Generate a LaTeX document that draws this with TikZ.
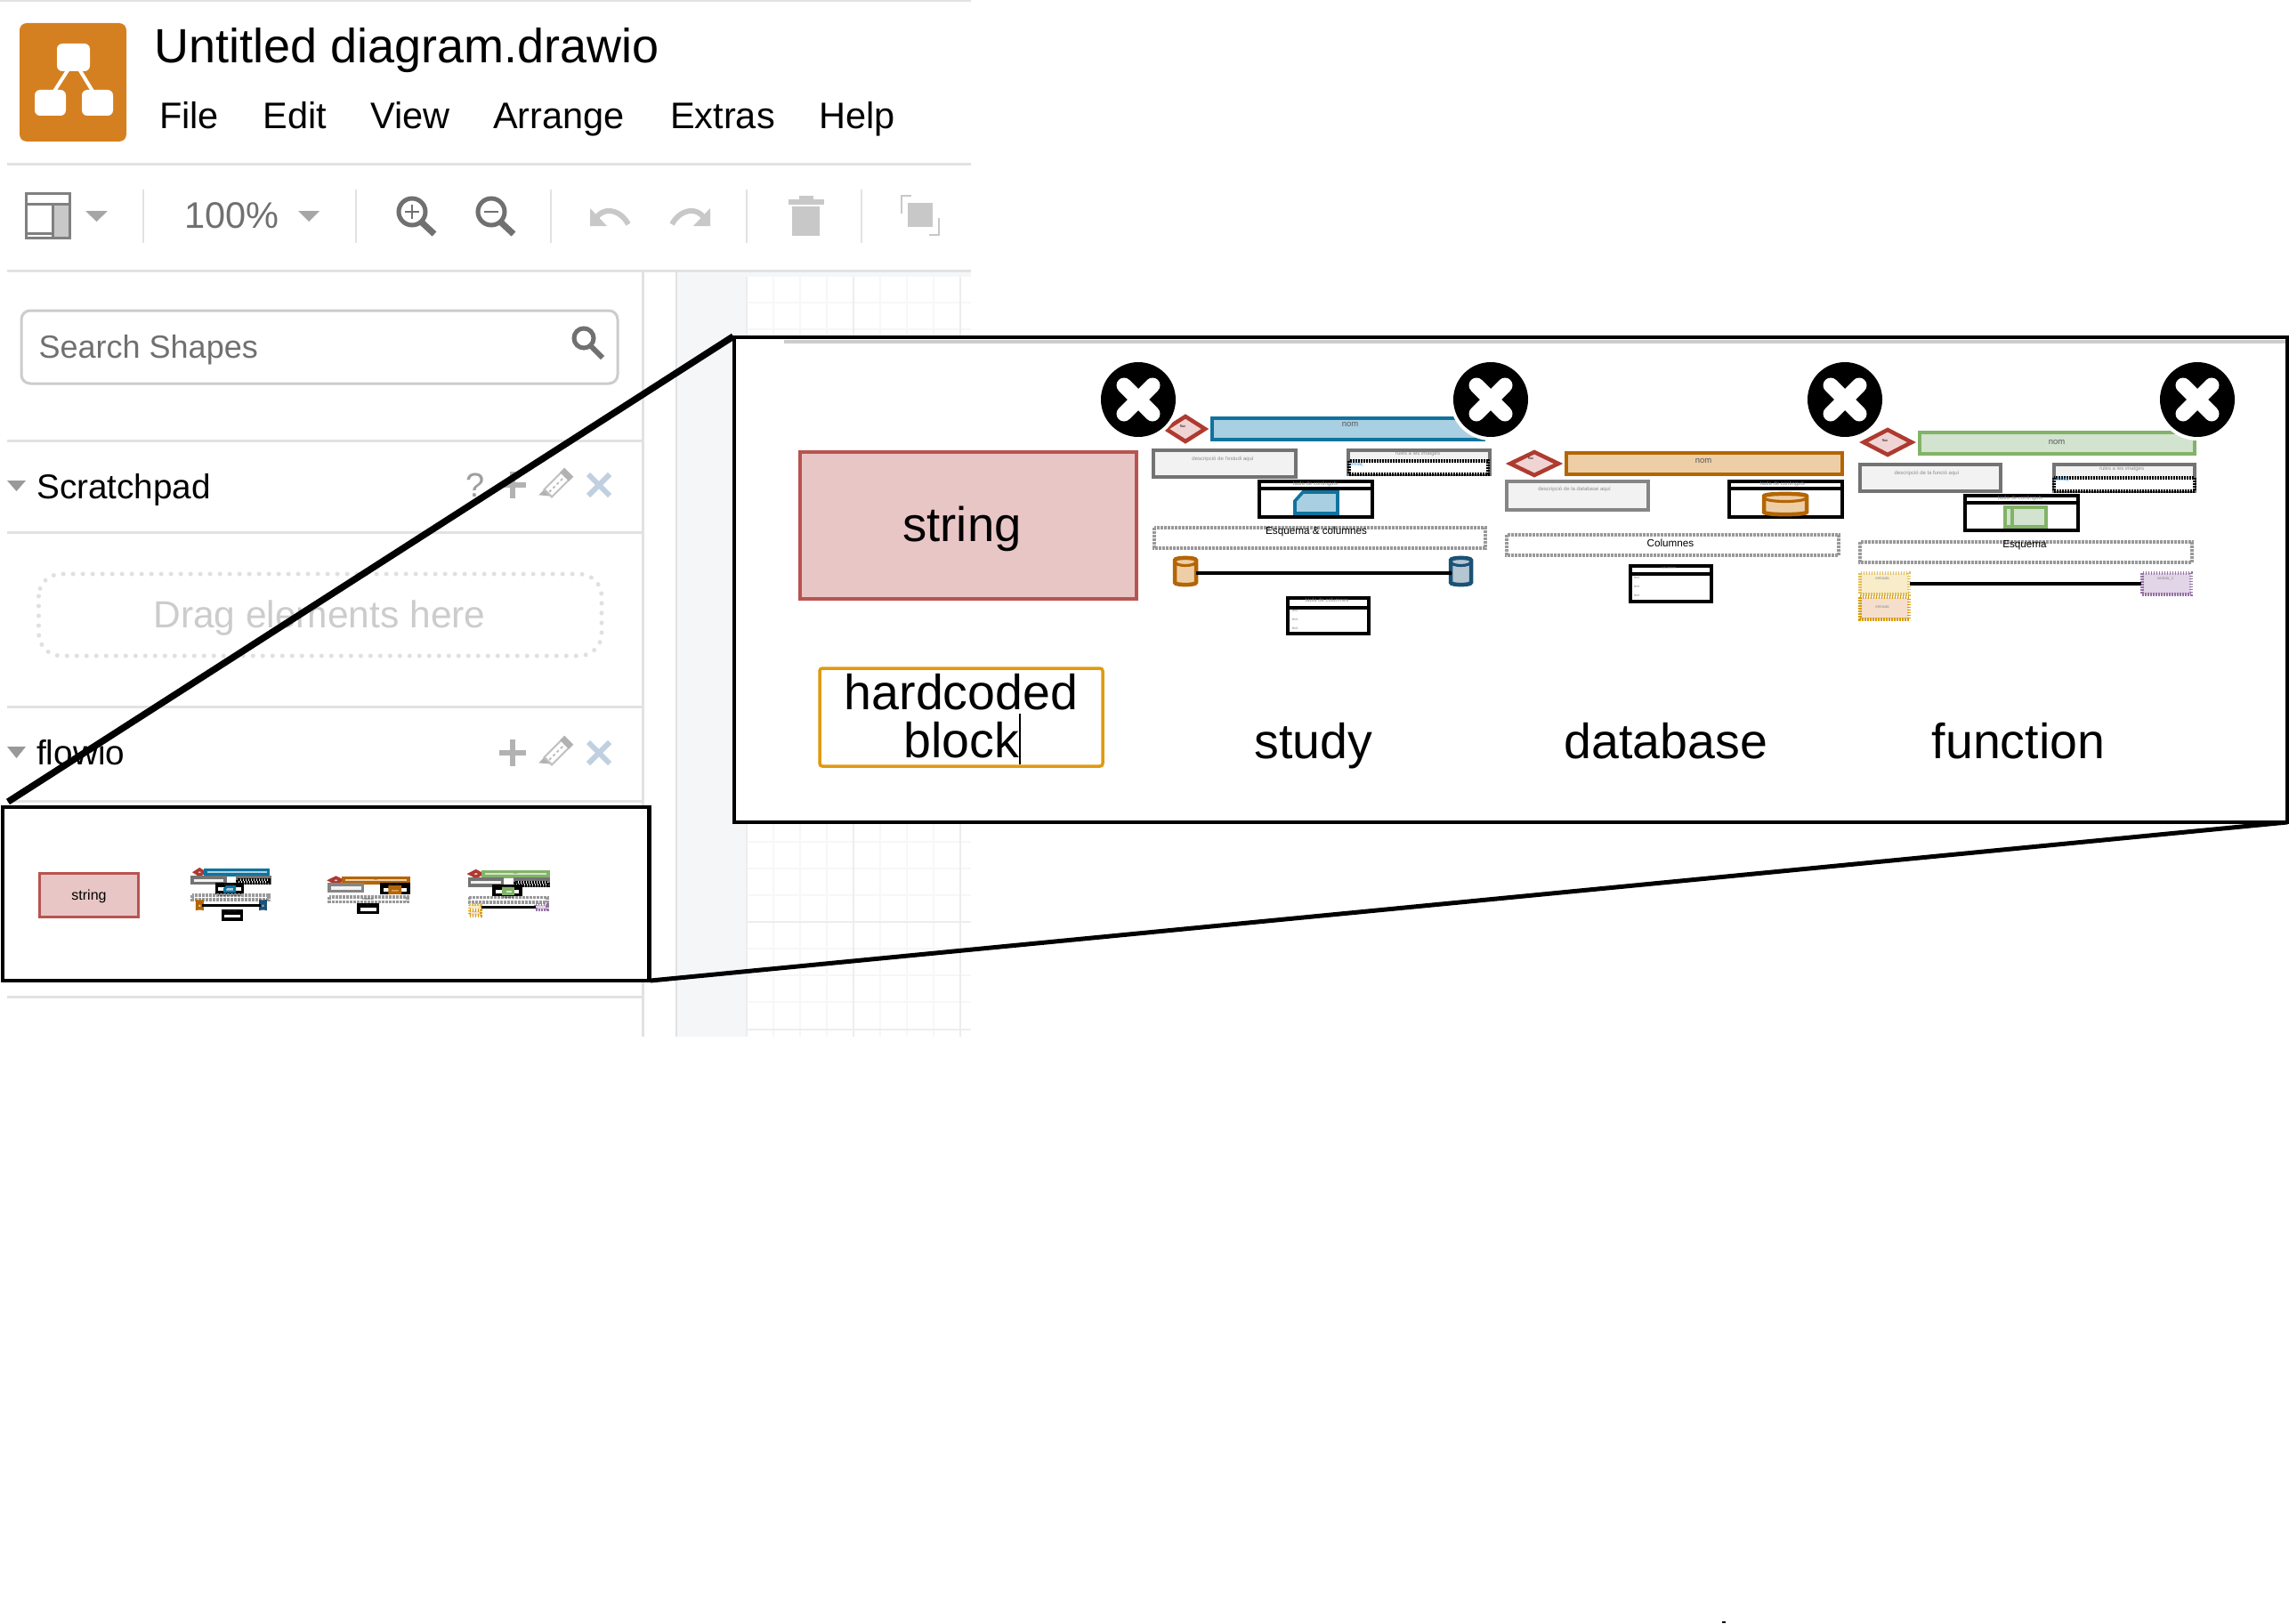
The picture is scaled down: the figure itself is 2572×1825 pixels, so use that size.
\documentclass[tikz,border=0pt]{standalone}
\usepackage{fontspec}
\setmainfont{Liberation Sans}
\usetikzlibrary{shapes.geometric}
\definecolor{uiline}{HTML}{E2E2E2}
\definecolor{uitext}{HTML}{707070}
\definecolor{dim}{HTML}{C8C8C8}
\definecolor{band}{HTML}{F5F6F8}
\definecolor{logoc}{HTML}{D58020}
\definecolor{redf}{HTML}{E9C6C6}
\definecolor{reds}{HTML}{B85450}
\definecolor{dia}{HTML}{AE3A30}
\definecolor{diaf}{HTML}{F0D4D4}
\definecolor{bluef}{HTML}{A9CFE2}
\definecolor{blues}{HTML}{10739E}
\definecolor{orgf}{HTML}{EECEA7}
\definecolor{orgs}{HTML}{B46504}
\definecolor{grnf}{HTML}{D2E3CF}
\definecolor{grns}{HTML}{82B366}
\definecolor{navyf}{HTML}{B5C5D2}
\definecolor{navys}{HTML}{1A5276}
\definecolor{ylwf}{HTML}{F8ECC9}
\definecolor{ylws}{HTML}{E0BE58}
\definecolor{peachf}{HTML}{F5DFCC}
\definecolor{peachs}{HTML}{D79B00}
\definecolor{purf}{HTML}{E1D5E7}
\definecolor{purs}{HTML}{9673A6}
\definecolor{hardc}{HTML}{E09A10}
\definecolor{linkc}{HTML}{3B9AE1}
\definecolor{crossc}{HTML}{C0D0E0}
\newcommand{\fs}[1]{\fontsize{#1}{#1}\selectfont}
\tikzset{
 x=1pt,y=-1pt,
 uirule/.style={uiline,line width=3pt},
 sep/.style={uiline,line width=2.5pt},
 mtext/.style={inner sep=0pt,anchor=base west,font=\fs{41.5},text=black},
 ticon/.style={uitext,line width=5pt},
 tdim/.style={dim,line width=4pt},
 tri/.style={fill=#1,draw=none},
 plusi/.style={color=black!30,line width=6.5pt},
 crossi/.style={color=crossc,line width=6pt},
 pen/.style={color=black!25,line width=2pt,fill=white},
 tiny/.style={inner sep=0pt,font=\fs{6},text=black!45},
 nomtext/.style={inner sep=0pt,font=\fs{9.5},text=black!65},
 esq/.style={inner sep=0pt,font=\fs{11.7},text=black},
 desc/.style={fill=black!5,draw=black!55,line width=\tlw},
 sub/.style={fill=white,draw=black,line width=\tlw},
 dots/.style={draw=black!40,line width=\tlw,dash pattern=on 3pt off 1pt,fill=white},
 dashk/.style={draw=black,line width=\tlw,dash pattern=on 2pt off 1pt,fill=white},
 dashc/.style={line width=\tlw,dash pattern=on 1.5pt off 1.5pt},
 wire/.style={black,line width=\tlw},
 big/.style={font=\fs{55.5},inner sep=0pt,text=black},
}
\newcommand{\tlw}{4.5pt}
\newcommand{\cyl}[6]{% x0 y0 x1 y1 fill stroke
 \draw[fill=#5,draw=#6,line width=\tlw,rounded corners=1.5pt]
   (#1,#2+4) .. controls (#1,#2-1) and (#3,#2-1) .. (#3,#2+4) -- (#3,#4-4)
   .. controls (#3,#4+1) and (#1,#4+1) .. (#1,#4-4) -- cycle;
 \draw[draw=#6,line width=.7*\tlw] (#1,#2+4) .. controls (#1,#2+10) and (#3,#2+10) .. (#3,#2+4);
}
\newcommand{\dia}[4]{%
 \draw[fill=diaf,draw=dia,line width=\tlw] (#1-#3,#2) -- (#1,#2-#4) -- (#1+#3,#2) -- (#1,#2+#4) -- cycle;
}
\newcommand{\studytile}[1]{
 \dia{1332}{482}{22}{14}
 \node[inner sep=0pt,font=\fs{4},text=black] (dia#1) at (1329,479) {flux};
 \draw[fill=bluef,draw=blues,line width=\tlw] (1362,470) rectangle (1667,494);
 \node[nomtext] (nom#1) at (1517,477) {nom};
 \draw[desc] (1296,506) rectangle (1456,536);
 \node[tiny] (dsc#1) at (1374,516) {descripció de l'estudi aquí};
 \draw[desc] (1515,506) rectangle (1674,533);
 \node[tiny] (rul#1) at (1593,510) {rules a les imatges};
 \draw[dashk] (1516,518) rectangle (1672,533);
 \node[inner sep=0pt,font=\fs{5.5},text=linkc,anchor=west] (lnk#1) at (1517,522) {enllaç};
 \draw[sub] (1415,541) rectangle (1542,581);
 \draw[black,line width=\tlw] (1415,549) -- (1542,549);
 \node[tiny] (hdr#1) at (1478,543.5) {taula de continguts};
 \draw[fill=bluef,draw=blues,line width=.8*\tlw] (1464,553) -- (1503,553) -- (1503,577) -- (1455,577) -- (1455,563) -- cycle;
 \draw[dots] (1297,593) rectangle (1669,616);
 \node[esq] (esq#1) at (1479,597) {Esquema \& columnes};
 \cyl{1320}{627}{1344}{657}{orgf}{orgs}
 \cyl{1630}{627}{1653}{657}{navyf}{navys}
 \coordinate (ca#1) at (1344,644);
 \coordinate (cb#1) at (1629,644);
 \draw[wire] (ca#1) -- (cb#1);
 \fill[black] (cb#1) circle[radius=2.5];
 \draw[sub] (1447,672) rectangle (1538,712);
 \draw[black,line width=\tlw] (1447,683) -- (1538,683);
 \node[tiny] (thd#1) at (1491,674.5) {taula de columnes};
 \node[tiny,font=\fs{4}] (ra#1) at (1455,686.5) {text};
 \node[tiny,font=\fs{4}] (rb#1) at (1455,696.5) {text};
 \node[tiny,font=\fs{4}] (rc#1) at (1455,706.5) {text};
}
\newcommand{\dbtile}[1]{
 \dia{1724}{521}{27}{13}
 \node[inner sep=0pt,font=\fs{4},text=black] (dia#1) at (1720,515) {flux};
 \draw[fill=orgf,draw=orgs,line width=\tlw] (1760,509) rectangle (2070,533);
 \node[nomtext] (nom#1) at (1914,518) {nom};
 \draw[desc,draw=black!48] (1693,541) rectangle (1852,573);
 \node[tiny] (dsc#1) at (1769,550) {descripció de la database aquí};
 \draw[sub] (1943,541) rectangle (2070,581);
 \draw[black,line width=\tlw] (1943,549) -- (2070,549);
 \node[tiny] (hdr#1) at (2003,543.5) {taula de continguts};
 \cyl{1982}{555}{2030}{578}{orgf}{orgs}
 \draw[dots] (1693,601) rectangle (2066,624);
 \node[esq] (esq#1) at (1877,610) {Columnes};
 \draw[sub] (1832,636) rectangle (1923,676);
 \draw[black,line width=\tlw] (1832,645) -- (1923,645);
 \node[tiny,font=\fs{4}] (thd#1) at (1875,638) {columnes};
 \node[tiny,font=\fs{4}] (ra#1) at (1839,649) {text};
 \node[tiny,font=\fs{4}] (rb#1) at (1839,659) {text};
 \node[tiny,font=\fs{4}] (rc#1) at (1839,669) {text};
}
\newcommand{\fntile}[1]{
 \dia{2121}{497}{27}{14}
 \node[inner sep=0pt,font=\fs{4},text=black] (dia#1) at (2118,495) {flux};
 \draw[fill=grnf,draw=grns,line width=\tlw] (2157,486) rectangle (2466,510);
 \node[nomtext] (nom#1) at (2311,497) {nom};
 \draw[desc] (2090,522) rectangle (2248,552);
 \node[tiny] (dsc#1) at (2165,532) {descripció de la funció aquí};
 \draw[desc] (2308,522) rectangle (2466,552);
 \node[tiny] (rul#1) at (2384,527) {rules a les imatges};
 \draw[dashk] (2308,537) rectangle (2466,552);
 \node[inner sep=0pt,font=\fs{5.5},text=linkc,anchor=west] (lnk#1) at (2310,539) {enllaç};
 \draw[sub] (2208,557) rectangle (2335,596);
 \draw[black,line width=\tlw] (2208,565) -- (2335,565);
 \node[tiny] (hdr#1) at (2270,559.5) {taula de continguts};
 \draw[fill=grnf,draw=grns,line width=\tlw] (2253,570) rectangle (2299,592);
 \draw[grns,line width=.8*\tlw] (2261,570) -- (2261,592);
 \draw[dots] (2090,609) rectangle (2463,632);
 \node[esq] (esq#1) at (2275,613) {Esquema};
 \draw[fill=ylwf,draw=ylws,dashc] (2090,644) rectangle (2145,668);
 \node[tiny,font=\fs{4.5}] (ea#1) at (2115,650) {entrada};
 \draw[fill=peachf,draw=peachs,dashc] (2090,671) rectangle (2145,696);
 \node[tiny,font=\fs{4.5}] (eb#1) at (2115,682) {entrada};
 \draw[fill=purf,draw=purs,dashc] (2407,644) rectangle (2462,668);
 \node[tiny,font=\fs{4.5}] (so#1) at (2433,650) {sortida\_1};
 \coordinate (fa#1) at (2146,656);
 \coordinate (fb#1) at (2406,656);
 \draw[wire] (fa#1) -- (fb#1);
}
\newcommand{\closex}[3]{
 \fill[white] (#2,#3) circle[radius=46];
 \fill[black] (#2,#3) circle[radius=42];
 \node[inner sep=0pt,minimum size=0pt] (#1) at (#2,#3) {};
 \draw[white,line width=17pt,line cap=round] (#2-16,#3-16) -- (#2+16,#3+16);
 \draw[white,line width=17pt,line cap=round] (#2-16,#3+16) -- (#2+16,#3-16);
}
\begin{document}
\begin{tikzpicture}
\useasboundingbox (0,0) rectangle (2572,1825);
\fill[white] (0,0) rectangle (2572,1825);
% canvas
\fill[band] (761,304) rectangle (839,1165);
\fill[band] (761,304) rectangle (1091,311);
\foreach \gx in {869,899,929,989,1019,1049} \draw[black!3,line width=1.5pt] (\gx,311) -- (\gx,1165);
\foreach \gy in {340,370,400,430,460,490,520,550,580,610,640,670,700,730,760,790,820,850,880,946,976,1006,1066,1096,1126} \draw[black!3,line width=1.5pt] (839,\gy) -- (1091,\gy);
\foreach \gx in {839,959,1079} \draw[black!7,line width=1.5pt] (\gx,311) -- (\gx,1165);
\foreach \gy in {916,1036,1157} \draw[black!7,line width=1.5pt] (839,\gy) -- (1091,\gy);
\draw[uiline,line width=2.5pt] (760,304) -- (760,1165);
\draw[uiline,line width=3pt] (722,304) -- (722,1165);
% top bar
\draw[uirule] (0,1) -- (1091,1);
\fill[logoc,rounded corners=8pt] (22,26) rectangle (142,159);
\draw[white,line width=4pt] (78,76) -- (60,104) (88,76) -- (105,104);
\fill[white,rounded corners=6pt] (64,49) rectangle (101,80);
\fill[white,rounded corners=6pt] (39,101) rectangle (74,130);
\fill[white,rounded corners=6pt] (92,101) rectangle (127,130);
\node[mtext,font=\fs{54}] (title) at (173,71) {Untitled diagram.drawio};
\node[mtext] (mfile) at (179,144.5) {File};
\node[mtext] (medit) at (295.5,144.5) {Edit};
\node[mtext] (mview) at (416,144.5) {View};
\node[mtext] (marr) at (554,144.5) {Arrange};
\node[mtext] (mext) at (753,144.5) {Extras};
\node[mtext] (mhelp) at (920,144.5) {Help};
\draw[uirule] (8,184) -- (1091,184);
% toolbar
\fill[dim] (59,229) rectangle (78,267);
\draw[black!50,line width=3pt] (29,217) rectangle (78,267);
\draw[black!50,line width=3pt] (29,229) -- (78,229) (59,229) -- (59,267) (29,262) -- (59,262);
\fill[tri=black!35] (96,237) -- (121,237) -- (108.5,249) -- cycle;
\foreach \sx in {161,400,619,839,968} \draw[sep] (\sx,213) -- (\sx,273);
\node[mtext,text=uitext] (zoomval) at (207.5,256.5) {100\%};
\fill[tri=black!35] (335,237) -- (359,237) -- (347,249) -- cycle;
\draw[ticon] (463,238) circle[radius=15];
\draw[ticon,line width=7pt] (474,250) -- (488,263);
\draw[uitext,line width=2.5pt] (455,238) -- (471,238) (463,230) -- (463,246);
\draw[ticon] (552,238) circle[radius=15];
\draw[ticon,line width=7pt] (563,250) -- (577,263);
\draw[uitext,line width=2.5pt] (544,238) -- (560,238);
\draw[tdim,line width=6pt] (667,252) .. controls (672,232) and (695,232) .. (706,252);
\fill[dim] (663,234) -- (663,254) -- (682,254) -- cycle;
\draw[tdim,line width=6pt] (794,252) .. controls (789,232) and (766,232) .. (755,252);
\fill[dim] (798,234) -- (798,254) -- (779,254) -- cycle;
\fill[dim] (890,232) rectangle (921,265);
\fill[dim] (886,224) rectangle (926,230);
\fill[dim] (898,220) rectangle (914,224);
\fill[dim] (1020,228) rectangle (1048,255);
\draw[dim,line width=2pt] (1024,220) -- (1013,220) -- (1013,240);
\draw[dim,line width=2pt] (1044,264) -- (1055,264) -- (1055,245);
\draw[uirule] (8,304) -- (1091,304);
% search
\draw[draw=black!20,line width=3pt,rounded corners=10pt,fill=white] (24,349) rectangle (694,431);
\node[mtext,font=\fs{36},text=uitext] (search) at (43.5,402) {Search Shapes};
\draw[uitext,line width=5pt] (656,380) circle[radius=11];
\draw[uitext,line width=6pt] (664,389) -- (677,402);
% panels
\draw[uirule] (8,495) -- (722,495);
\draw[uirule] (8,598) -- (722,598);
\draw[uirule] (8,794) -- (722,794);
\draw[uirule] (8,900) -- (722,900);
\draw[uirule] (8,1120) -- (722,1120);
\fill[tri=black!40] (8,540) -- (29,540) -- (18.5,552) -- cycle;
\fill[tri=black!40] (8,839) -- (29,839) -- (18.5,852) -- cycle;
\node[mtext,font=\fs{38.7}] (scratch) at (41,560) {Scratchpad};
\node[mtext,font=\fs{38.7}] (flowio) at (41,859) {flowio};
\node[inner sep=0pt,font=\fs{38},text=black!38] (qm) at (534,545) {?};
\foreach \ry in {545,846} {
 \draw[plusi] (561,\ry) -- (591,\ry) (576,\ry-15) -- (576,\ry+15);
 \begin{scope}[shift={(625,\ry)},rotate=45]
  \fill[black!30] (-22,-6) -- (-12,-6) -- (-12,6) -- cycle;
  \draw[pen] (-13,-6) rectangle (19,6);
  \draw[pen,dashed] (-11,0) -- (17,0);
  \fill[black!30] (13,-7) rectangle (20,7);
 \end{scope}
 \draw[crossi] (661,\ry-12) -- (685,\ry+12) (661,\ry+12) -- (685,\ry-12);
}
\draw[draw=black!12,line width=5pt,line cap=round,dash pattern=on 0pt off 11pt,rounded corners=25pt] (43.5,645) rectangle (676,737);
\node[inner sep=0pt,anchor=base,font=\fs{42.5},text=black!20] (drag) at (359,705) {Drag elements here};
% callout
\coordinate (smtl) at (9,901);
\coordinate (smbr) at (731,1102);
\coordinate (bgtl) at (824,378);
\coordinate (bgbr) at (2570,924);
\draw[black,line width=7.5pt] (smtl) -- (bgtl);
\draw[black,line width=5pt] (smbr) -- (bgbr);
\draw[fill=white,draw=black,line width=4.5pt] (3,907) rectangle (729.5,1102);
\draw[fill=white,draw=black,line width=4.5pt] (825,379) rectangle (2570,924);
\draw[black!20,line width=4pt] (881,384) -- (2568,384);
\draw[black,line width=4.5pt] (825,379) -- (2570,379);
% big tiles
\node[fill=redf,draw=reds,line width=3.5pt,minimum width=378pt,minimum height=165pt,inner sep=0pt] (strbig) at (1088,590.5) {};
\node[big,font=\fs{54.5},anchor=base] (strtxt) at (1081,608) {string};
\draw[hardc,line width=3.5pt,rounded corners=3pt,fill=white] (921,751) rectangle (1239,861);
\node[big,anchor=base] (hc1) at (1080,797.5) {hardcoded};
\node[big,anchor=base] (hc2) at (1080,851.5) {block};
\draw[black,line width=2.5pt] (1146,802) -- (1146,859);
\node[big,anchor=base] (lstudy) at (1476,852) {study};
\node[big,anchor=base] (ldb) at (1872,852) {database};
\node[big,anchor=base] (lfn) at (2268,852) {function};
\studytile{S}
\dbtile{D}
\fntile{F}
\closex{xa}{1279}{449}
\closex{xb}{1675}{449}
\closex{xc}{2073}{449}
\closex{xd}{2469}{449}
% thumbnails
\node[fill=redf,draw=reds,line width=3pt,minimum width=111pt,minimum height=49pt,inner sep=0pt] (strsm) at (100,1005.5) {};
\node[inner sep=0pt,anchor=base,font=\fs{16}] (strsmt) at (100,1011) {string};
\renewcommand{\tlw}{3.5pt}
\begin{scope}[shift={(216,977)},scale=.23,shift={(-1296,-468)},transform shape]
\studytile{s}
\end{scope}
\begin{scope}[shift={(370,986)},scale=.235,shift={(-1692,-507)},transform shape]
\dbtile{d}
\end{scope}
\begin{scope}[shift={(527,979)},scale=.235,shift={(-2088,-484)},transform shape]
\fntile{f}
\end{scope}
\fill[black] (1935,1822) rectangle (1939,1824);
\end{tikzpicture}
\end{document}
